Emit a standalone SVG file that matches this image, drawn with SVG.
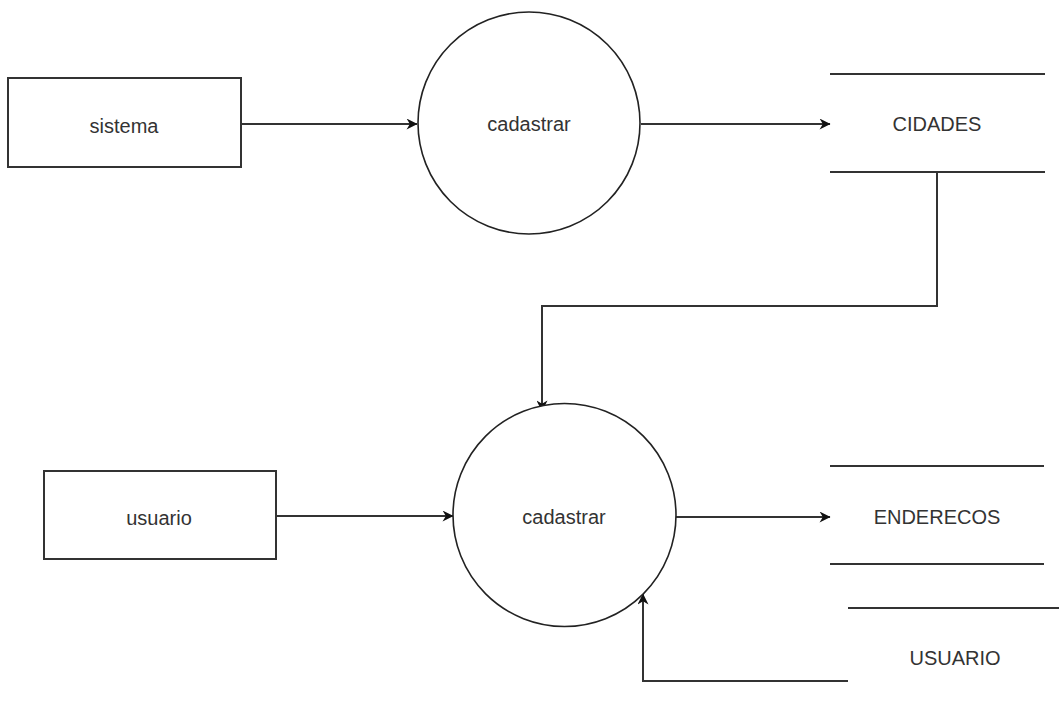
<svg xmlns="http://www.w3.org/2000/svg" width="1059" height="704" viewBox="0 0 1059 704">
<style>
.box{fill:#fff;stroke:#333;stroke-width:2}
.proc{fill:#fff;stroke:#222;stroke-width:1.6}
.store{stroke:#333;stroke-width:2}
.edge{fill:none;stroke:#333;stroke-width:2}
text{font-family:"Liberation Sans",Arial,sans-serif;font-size:20px;fill:#333;text-anchor:middle;dominant-baseline:central}
</style>
<defs>
<marker id="arr" viewBox="0 0 10 10" refX="9.5" refY="5" markerWidth="13" markerHeight="11" markerUnits="userSpaceOnUse" orient="auto">
<path d="M0,0 L10,5 L0,10 L3,5 Z" fill="#111"/>
</marker>
</defs>
<rect width="1059" height="704" fill="#fff"/>
<g id="connectors">
<path class="edge" d="M241,124 H417" marker-end="url(#arr)"/>
<path class="edge" d="M641,124 H830" marker-end="url(#arr)"/>
<path class="edge" d="M937,172 V306 H542 V411" marker-end="url(#arr)"/>
<path class="edge" d="M276,516 H453" marker-end="url(#arr)"/>
<path class="edge" d="M676,517 H830" marker-end="url(#arr)"/>
<path class="edge" d="M848,681 H643 V594" marker-end="url(#arr)"/>
</g>
<g id="sistema">
<rect class="box" x="8" y="78" width="233" height="89"/>
<text x="124" y="126">sistema</text>
</g>
<g id="cadastrar1">
<circle class="proc" cx="529" cy="123" r="111"/>
<text x="529" y="124">cadastrar</text>
</g>
<g id="cidades">
<line class="store" x1="830" y1="74" x2="1045" y2="74"/>
<line class="store" x1="830" y1="172" x2="1045" y2="172"/>
<text x="937" y="124">CIDADES</text>
</g>
<g id="usuario">
<rect class="box" x="44" y="471" width="232" height="88"/>
<text x="159" y="518">usuario</text>
</g>
<g id="cadastrar2">
<circle class="proc" cx="564.5" cy="515" r="111.5"/>
<text x="564" y="517">cadastrar</text>
</g>
<g id="enderecos">
<line class="store" x1="830" y1="466" x2="1044" y2="466"/>
<line class="store" x1="830" y1="564" x2="1044" y2="564"/>
<text x="937" y="517">ENDERECOS</text>
</g>
<g id="usuario-store">
<line class="store" x1="848" y1="608" x2="1059" y2="608"/>
<text x="955" y="658">USUARIO</text>
</g>
</svg>
